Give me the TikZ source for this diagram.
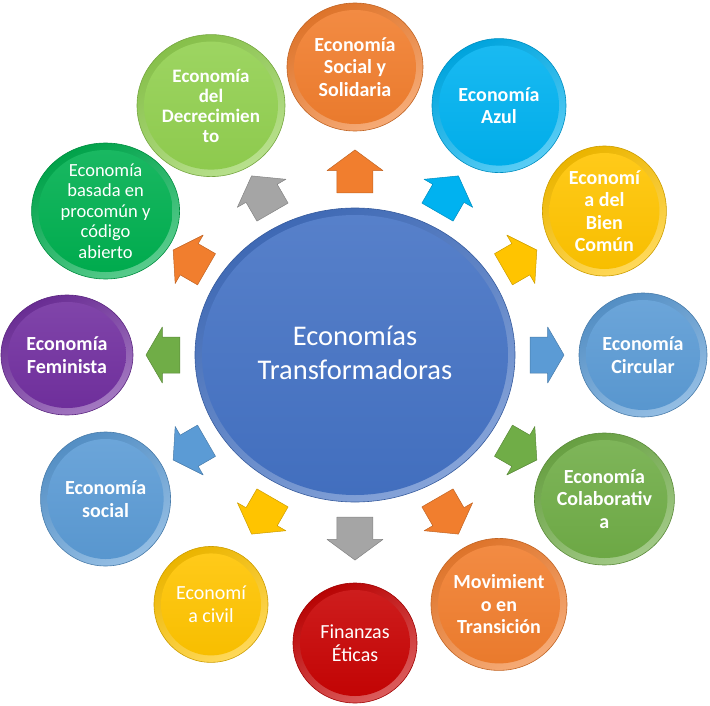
\documentclass[tikz,border=0pt]{standalone}
\usepackage{fontspec}
\setmainfont{Carlito}
\usetikzlibrary{shapes.geometric}

\definecolor{ecoorange}{RGB}{241,126,46}
\definecolor{ecocyan}{RGB}{0,178,240}
\definecolor{ecogold}{RGB}{255,196,0}
\definecolor{ecoblue}{RGB}{91,155,213}
\definecolor{ecogreen}{RGB}{112,173,71}
\definecolor{ecogray}{RGB}{165,165,165}
\definecolor{ecored}{RGB}{200,4,4}
\definecolor{ecopurple}{RGB}{114,48,160}
\definecolor{ecodarkgreen}{RGB}{0,176,80}
\definecolor{ecolightgreen}{RGB}{146,208,80}
\definecolor{ecocentre}{RGB}{68,114,196}

\tikzset{
  ecorim/.style={ellipse, inner sep=0pt, draw=#1!80!black, line width=0.6pt,
    top color=#1!92!black, bottom color=#1!65!white, shading angle=30},
  ecodisc/.style={top color=#1!90!white, bottom color=#1!97!black},
  ecolabel/.style={text=white, align=center, inner sep=0pt,
    font=\fontsize{20}{22.5}\selectfont\bfseries},
  blockarrow/.style={fill=#1, draw=#1!80!black, line width=0.5pt, line join=round}
}

% name, angle, width, height, colour, label options, text
\newcommand{\ecobubble}[7]{%
  \node[ecorim=#5, minimum width=#3, minimum height=#4] (#1 rim) at (#2:288) {};
  \shade[ecodisc=#5] (#1 rim.center) ellipse [x radius=#3/2-7, y radius=#4/2-7];
  \node[ecolabel, #6] (#1) at (#1 rim.center) {#7};
}

\begin{document}
\begin{tikzpicture}[x=1pt,y=1pt]
  \useasboundingbox (-355,-350) rectangle (355,355);

  % centre
  \node[ecorim=ecocentre, minimum width=320, minimum height=294] (centre rim) at (0,0) {};
  \shade[ecodisc=ecocentre] (centre rim.center) ellipse [x radius=153, y radius=140];
  \node[ecolabel, font=\fontsize{28.5}{34}\selectfont] (centre) at (0,2) {Economías\\Transformadoras};

  % arrows
  \foreach \a/\c in {90/ecoorange, 60/ecocyan, 30/ecogold, 0/ecoblue, -30/ecogreen,
      -60/ecoorange, -90/ecogray, -120/ecogold, -150/ecoblue, 180/ecogreen,
      150/ecoorange, 120/ecogray}{
    \pgfmathsetmacro\rb{160/sqrt(cos(\a)^2+(1.088*sin(\a))^2)+15}
    \pgfmathsetmacro\len{34+9*abs(sin(\a))}
    \pgfmathsetmacro\sh{\rb+0.52*\len}
    \pgfmathsetmacro\tip{\rb+\len}
    \filldraw[blockarrow=\c, rotate=\a] (\rb,-18) -- (\sh,-18) -- (\sh,-28)
      -- (\tip,0) -- (\sh,28) -- (\sh,18) -- (\rb,18) -- cycle;
  }

  % bubbles
  \ecobubble{sys}{90}{136}{128}{ecoorange}{}{Economía\\Social y\\Solidaria}
  \ecobubble{azul}{60}{134}{134}{ecocyan}{}{Economía\\Azul}
  \ecobubble{biencomun}{30}{124}{130}{ecogold}{}{Economí\\a del\\Bien\\Común}
  \ecobubble{circular}{0}{128}{124}{ecoblue}{}{Economía\\Circular}
  \ecobubble{colaborativa}{-30}{140}{132}{ecogreen}{}{Economía\\Colaborativ\\a}
  \ecobubble{transicion}{-60}{136}{132}{ecoorange}{}{Movimient\\o en\\Transición}
  \ecobubble{finanzas}{-90}{124}{120}{ecored}{font=\fontsize{20}{23}\selectfont}{Finanzas\\Éticas}
  \ecobubble{civil}{-120}{114}{116}{ecogold}{font=\fontsize{20}{23}\selectfont}{Economí\\a civil}
  \ecobubble{social}{-150}{130}{134}{ecoblue}{}{Economía\\social}
  \ecobubble{feminista}{180}{132}{120}{ecopurple}{}{Economía\\Feminista}
  \ecobubble{procomun}{150}{148}{136}{ecodarkgreen}{font=\fontsize{18.5}{20.5}\selectfont}{Economía\\basada en\\procomún y\\código\\abierto}
  \ecobubble{decrecimiento}{120}{148}{142}{ecolightgreen}{font=\fontsize{19}{20}\selectfont\bfseries}{Economía\\del\\Decrecimien\\to}
\end{tikzpicture}
\end{document}
